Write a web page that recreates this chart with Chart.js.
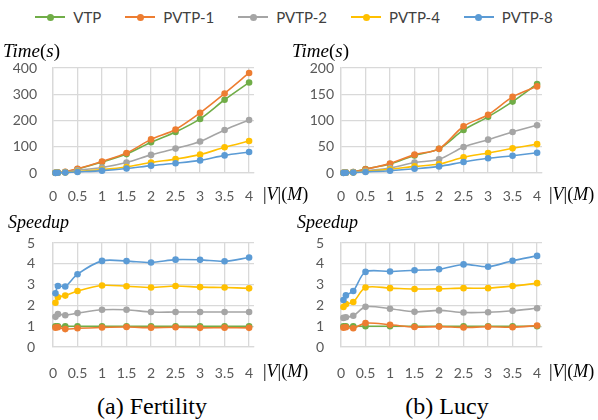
<!DOCTYPE html>
<html>
<head>
<meta charset="utf-8">
<script src="https://cdn.jsdelivr.net/npm/chart.js@4.4.1/dist/chart.umd.min.js"></script>
<style>
  body { margin: 0; width: 598px; height: 420px; overflow: hidden; background: #fff; position: relative; }
  canvas { position: absolute; }
  #legend { position: absolute; left: 0; top: 7px; width: 588px; height: 20px; display: flex; justify-content: center; align-items: center;
            font-family: Lato, sans-serif; font-size: 15px; color: #404040; }
  .item { display: flex; align-items: center; margin: 0 12px; }
  .mk { position: relative; width: 30px; height: 2px; margin-right: 8px; }
  .mk::after { content: ""; position: absolute; left: 11.5px; top: -2.5px; width: 7px; height: 7px; border-radius: 50%; background: inherit; }
  .ttl { position: absolute; font-family: "Liberation Serif", "Times New Roman", serif; font-size: 19px; line-height: 20px; color: #000; white-space: nowrap; }
  .cap { position: absolute; font-family: "Liberation Serif", "Times New Roman", serif; font-size: 24px; line-height: 28px; color: #000; white-space: nowrap; transform: translateX(-50%); }
</style>
</head>
<body>
<div id="legend"></div>
<canvas id="fert-time" width="260" height="150" style="left:0;top:55px"></canvas>
<canvas id="lucy-time" width="262" height="150" style="left:287px;top:55px"></canvas>
<canvas id="fert-speed" width="260" height="150" style="left:0;top:230px"></canvas>
<canvas id="lucy-speed" width="262" height="150" style="left:287px;top:230px"></canvas>

<div class="ttl" style="left:3px;top:41px"><i>Time</i>(<i>s</i>)</div>
<div class="ttl" style="left:292px;top:41px"><i>Time</i>(<i>s</i>)</div>
<div class="ttl" style="left:263px;top:184px;font-size:18px">|<i>V</i>|(<i>M</i>)</div>
<div class="ttl" style="left:549px;top:184px;font-size:18px">|<i>V</i>|(<i>M</i>)</div>
<div class="ttl" style="left:8px;top:212px;font-size:18px"><i>Speedup</i></div>
<div class="ttl" style="left:297px;top:212px;font-size:18px"><i>Speedup</i></div>
<div class="ttl" style="left:263px;top:361px;font-size:18px">|<i>V</i>|(<i>M</i>)</div>
<div class="ttl" style="left:549px;top:361px;font-size:18px">|<i>V</i>|(<i>M</i>)</div>
<div class="cap" style="left:152px;top:392px">(a) Fertility</div>
<div class="cap" style="left:447px;top:392px">(b) Lucy</div>

<script>
// Datos (|V| en millones)
const sizes = [0.05, 0.1, 0.25, 0.5, 1, 1.5, 2, 2.5, 3, 3.5, 4];
const xTicks = [0, 0.5, 1, 1.5, 2, 2.5, 3, 3.5, 4];
const seriesNames = ['VTP', 'PVTP-1', 'PVTP-2', 'PVTP-4', 'PVTP-8'];
const seriesColors = ['#70AD47', '#ED7D31', '#A5A5A5', '#FFC000', '#5B9BD5'];

// Fertility - tiempo (s)
const fertTimeVTP = [1, 2, 4, 15, 42, 72, 117, 156, 206, 279, 345];
const fertTimeP1 = [1, 2, 5, 16, 44, 76, 128, 166, 229, 303, 381];
const fertTimeP2 = [1, 1, 3, 10, 21, 40, 69, 93, 120, 164, 202];
const fertTimeP4 = [0.5, 1, 2, 6, 13, 23, 40, 53, 70, 98, 122];
const fertTimeP8 = [0.4, 0.7, 1.5, 4, 9, 17, 28, 37, 48, 67, 80];

// Lucy - tiempo (s)
const lucyTimeVTP = [0.5, 1, 2, 7.6, 17, 33.5, 46, 82, 107, 136, 169.5];
const lucyTimeP1 = [0.5, 1, 2, 7, 18, 35, 46, 89, 111, 145, 165];
const lucyTimeP2 = [0.4, 0.7, 1.5, 4, 9.5, 20, 26, 49.5, 63.5, 78, 91];
const lucyTimeP4 = [0.3, 0.5, 1, 3, 7, 12.6, 17, 30, 38, 47, 55];
const lucyTimeP8 = [0.2, 0.4, 0.8, 2, 4.4, 8, 12.6, 21, 28, 33, 38.7];

// Fertility - speedup
const fertSpeedVTP = [1, 1, 1, 1, 1, 1, 1, 1, 1, 1, 1];
const fertSpeedP1 = [0.93, 0.95, 0.86, 0.9, 0.94, 0.96, 0.93, 0.95, 0.92, 0.93, 0.92];
const fertSpeedP2 = [1.45, 1.58, 1.53, 1.63, 1.79, 1.79, 1.68, 1.68, 1.68, 1.68, 1.68];
const fertSpeedP4 = [2.13, 2.39, 2.47, 2.69, 2.96, 2.92, 2.86, 2.93, 2.88, 2.86, 2.82];
const fertSpeedP8 = [2.58, 2.93, 2.91, 3.5, 4.14, 4.13, 4.06, 4.2, 4.19, 4.12, 4.3];

// Lucy - speedup
const lucySpeedVTP = [1, 1, 1, 1, 1, 1, 1, 1, 1, 1, 1];
const lucySpeedP1 = [0.93, 0.95, 0.9, 1.15, 1.07, 0.96, 0.98, 0.94, 0.97, 0.95, 1.03];
const lucySpeedP2 = [1.4, 1.43, 1.5, 1.93, 1.84, 1.69, 1.76, 1.66, 1.67, 1.74, 1.86];
const lucySpeedP4 = [1.92, 2.06, 2.16, 2.86, 2.83, 2.79, 2.8, 2.83, 2.83, 2.93, 3.07];
const lucySpeedP8 = [2.26, 2.48, 2.69, 3.61, 3.63, 3.69, 3.74, 3.97, 3.86, 4.15, 4.38];

const gridColor = '#D9D9D9';
const tickFont = { family: 'Lato', size: 14 };
const tickColor = '#595959';

// Crear un panel con las 5 series
function makePanel(canvasId, seriesData, yMax, yStep, g) {
  const datasets = seriesData.map((vals, i) => ({
    label: seriesNames[i],
    data: sizes.map((x, j) => ({ x: x, y: vals[j] })),
    borderColor: seriesColors[i],
    backgroundColor: seriesColors[i],
    borderWidth: 1.6,
    pointRadius: 3.3,
    pointBorderWidth: 0,
    tension: 0.3,
    order: 5 - i,
    clip: false
  }));
  return new Chart(document.getElementById(canvasId), {
    type: 'line',
    data: { datasets: datasets },
    options: {
      responsive: false,
      animation: false,
      layout: { padding: { top: g.padTop, right: g.padRight, left: 0, bottom: 0 } },
      plugins: { legend: { display: false }, tooltip: { enabled: false } },
      scales: {
        x: {
          type: 'linear', min: 0, max: 4.1,
          afterBuildTicks: (s) => { s.ticks = xTicks.map((v) => ({ value: v })); },
          afterFit: (s) => { s.height = g.xAxisH; s.paddingRight = 0; s.paddingLeft = 0; },
          grid: { color: gridColor, lineWidth: 1.3, drawTicks: false },
          border: { color: gridColor, width: 1.3 },
          ticks: {
            padding: g.xPad, font: tickFont, color: tickColor, maxRotation: 0, autoSkip: false,
            callback: (v) => String(v)
          }
        },
        y: {
          min: 0, max: yMax,
          afterFit: (s) => { s.width = g.yAxisW; s.paddingTop = 0; s.paddingBottom = 0; },
          grid: { color: gridColor, lineWidth: 1.3, drawTicks: false },
          border: { color: gridColor, width: 1.3 },
          ticks: { stepSize: yStep, padding: g.yPad, font: tickFont, color: tickColor, autoSkip: false }
        }
      }
    }
  });
}

makePanel('fert-time', [fertTimeVTP, fertTimeP1, fertTimeP2, fertTimeP4, fertTimeP8], 400, 100,
  { yAxisW: 53, padTop: 13, padRight: 6, xAxisH: 32, xPad: 15, yPad: 16 });
makePanel('lucy-time', [lucyTimeVTP, lucyTimeP1, lucyTimeP2, lucyTimeP4, lucyTimeP8], 200, 50,
  { yAxisW: 54, padTop: 13, padRight: 7, xAxisH: 32, xPad: 15, yPad: 7 });
makePanel('fert-speed', [fertSpeedVTP, fertSpeedP1, fertSpeedP2, fertSpeedP4, fertSpeedP8], 5, 1,
  { yAxisW: 53, padTop: 13, padRight: 6, xAxisH: 33, xPad: 18, yPad: 18 });
makePanel('lucy-speed', [lucySpeedVTP, lucySpeedP1, lucySpeedP2, lucySpeedP4, lucySpeedP8], 5, 1,
  { yAxisW: 54, padTop: 13, padRight: 7, xAxisH: 33, xPad: 18, yPad: 17 });

// Leyenda común (línea con punto), construida a partir de los nombres y colores
const legendBox = document.getElementById('legend');
seriesNames.forEach((name, i) => {
  const item = document.createElement('div');
  item.className = 'item';
  const mk = document.createElement('span');
  mk.className = 'mk';
  mk.style.background = seriesColors[i];
  const txt = document.createElement('span');
  txt.textContent = name;
  item.appendChild(mk);
  item.appendChild(txt);
  legendBox.appendChild(item);
});
</script>
</body>
</html>
